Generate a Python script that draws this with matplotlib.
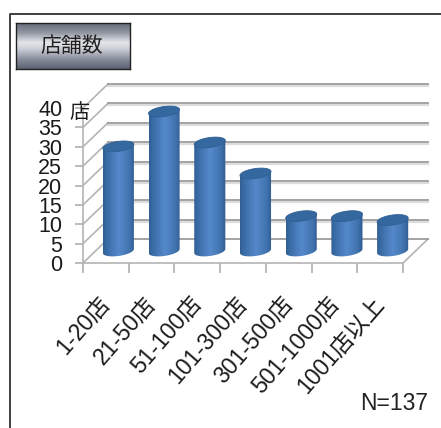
import numpy as np
import matplotlib
matplotlib.use("Agg")
import matplotlib.pyplot as plt
from matplotlib.colors import LinearSegmentedColormap
from matplotlib.lines import Line2D
from matplotlib.patches import PathPatch, Polygon
from matplotlib.path import Path
from matplotlib.transforms import Affine2D, IdentityTransform

plt.rcParams['font.family'] = ['Liberation Sans', 'Noto Sans CJK JP', 'DejaVu Sans']

categories = ['1-20店', '21-50店', '51-100店', '101-300店', '301-500店', '501-1000店', '1001店以上']
shops = [27, 36, 28, 20, 9, 9, 8]
y_ticks = [0, 5, 10, 15, 20, 25, 30, 35, 40]

W, H = 441, 428
fig = plt.figure(figsize=(W / 100, H / 100), dpi=100)


def px_box(x0, y_top, x1, y_bottom):
    return [x0 / W, 1 - y_bottom / H, (x1 - x0) / W, (y_bottom - y_top) / H]


# outer frame, only top and left are visible
fig.add_artist(Line2D([10 / W, 10 / W, 1], [0, 1 - 14 / H, 1 - 14 / H], color='#303030', lw=1.3))

# title button
btn = fig.add_axes(px_box(16, 23, 130, 69))
btn_cmap = LinearSegmentedColormap.from_list('btn', [
    (0, '#666c7c'), (0.2, '#90959f'), (0.42, '#e4e5ea'), (0.55, '#d0d2da'), (0.8, '#858b9a'), (1, '#5c6272')])
btn.imshow(np.linspace(0, 1, 64).reshape(-1, 1), cmap=btn_cmap, aspect='auto')
btn.set_xticks([])
btn.set_yticks([])
for s in btn.spines.values():
    s.set_color('#222222')
    s.set_linewidth(1.0)
btn.text(0.485, 0.5, '店舗数', transform=btn.transAxes, ha='center', va='center', fontsize=15, color='#202020')

# plot area: front plane runs 83..403 px across and 263..108 px up
slot = 320 / 7
unit = 155 / 40
ax = fig.add_axes(px_box(83, 60, W, 263))
ax.set_xlim(0, (W - 83) / slot)
ax.set_ylim(0, (263 - 60) / unit)
ax.patch.set_visible(False)

dx, dy = 25, 24
back = ax.transData + Affine2D().translate(dx, dy)
mid = ax.transData + Affine2D().translate(dx / 2, dy / 2)
shadow = ax.transData + Affine2D().translate(dx, dy - 2)

for v in y_ticks:
    if v > 0:
        ax.plot([0, 7], [v, v], color='#dcdcdc', lw=1.6, transform=shadow, zorder=1)
    ax.plot([0, 7], [v, v], color='#9c9c9c', lw=1.3, transform=back, zorder=1.5)
    # side wall diagonals
    p0 = ax.transData.transform((0, v))
    ax.plot([p0[0], p0[0] + dx], [p0[1], p0[1] + dy], color='#b4b4b4', lw=1.2,
            transform=IdentityTransform(), zorder=1.2)

# floor, right edge
p0 = ax.transData.transform((7, 0))
ax.plot([p0[0], p0[0] + dx], [p0[1], p0[1] + dy], color='#b4b4b4', lw=1.2,
        transform=IdentityTransform(), zorder=1.2)

bar_cmap = LinearSegmentedColormap.from_list('bar', [
    (0, '#325f93'), (0.12, '#3a6ca6'), (0.5, '#5589cb'), (0.85, '#4072ad'), (1, '#305c90')])
grad = np.linspace(0, 1, 64).reshape(1, -1)
half_w = 0.34 * slot
half_h = 5
tilt = 2
t = np.linspace(0, 2 * np.pi, 80)

for i, v in enumerate(shops):
    cx, base = mid.transform((i + 0.5, 0))
    _, top = mid.transform((i + 0.5, v))
    ex = half_w * np.cos(t)
    ey = half_h * np.sin(t) + tilt * np.cos(t)
    arc = t[(t >= np.pi) & (t <= 2 * np.pi)]
    arc_x = cx + half_w * np.cos(arc)
    arc_y = base + half_h * np.sin(arc) + tilt * np.cos(arc)
    body = np.column_stack([
        np.r_[cx - half_w, arc_x, cx + half_w],
        np.r_[top - tilt, arc_y, top + tilt]])
    im = ax.imshow(grad, cmap=bar_cmap, aspect='auto', zorder=3, interpolation='bilinear',
                   extent=(cx - half_w, cx + half_w, base - half_h - tilt - 1, top + tilt + 1),
                   transform=IdentityTransform())
    im.set_clip_path(PathPatch(Path(np.vstack([body, body[0]]), closed=True), transform=IdentityTransform()))
    ax.add_patch(Polygon(np.column_stack([cx + ex, top + ey]), closed=True, facecolor='#35689f',
                         edgecolor='#2f5f94', lw=0.6, transform=IdentityTransform(), zorder=4))

# imshow resets the limits
ax.set_xlim(0, (W - 83) / slot)
ax.set_ylim(0, (263 - 60) / unit)

for name in ('top', 'right'):
    ax.spines[name].set_visible(False)
ax.spines['left'].set_bounds(0, 40)
ax.spines['bottom'].set_bounds(0, 7)
ax.spines['left'].set_color('#b4b4b4')
ax.spines['bottom'].set_color('#b4b4b4')
ax.spines['left'].set_linewidth(1.2)
ax.spines['bottom'].set_linewidth(1.2)

ax.set_yticks(y_ticks)
ax.set_yticklabels([str(v) for v in y_ticks], fontsize=15.5, color='#1a1a1a')
ax.tick_params(axis='y', length=6, width=1.1, color='#a8a8a8', pad=9)
ax.set_xticks(np.arange(8))
ax.set_xticklabels([])
ax.tick_params(axis='x', which='major', length=7, width=1.1, color='#a8a8a8')
ax.set_xticks(np.arange(7) + 0.32, minor=True)
ax.set_xticklabels(categories, minor=True, rotation=49, ha='right', rotation_mode='anchor',
                   fontsize=16.5, color='#1a1a1a')
ax.tick_params(axis='x', which='minor', length=0, pad=21)

fig.text(79 / W, 1 - 113 / H, '店', ha='center', va='center', fontsize=14.5, color='#1a1a1a')
fig.text(394 / W, 1 - 403 / H, 'N=137', ha='center', va='center', fontsize=16.5, color='#222222')

fig.savefig('out.png', dpi=100)
